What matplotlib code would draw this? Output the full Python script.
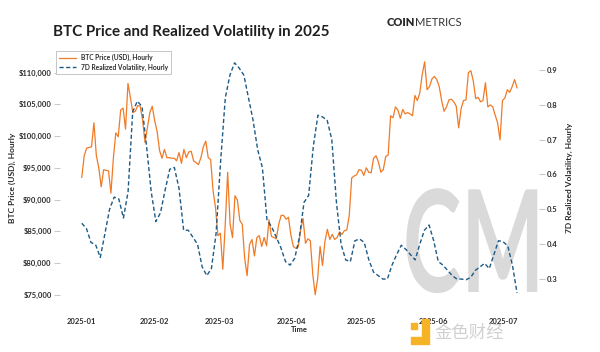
import numpy as np
import pandas as pd
import matplotlib
matplotlib.use("Agg")
import matplotlib.pyplot as plt
import matplotlib.dates as mdates
from matplotlib.ticker import FuncFormatter, FixedLocator
from matplotlib.textpath import TextPath
from matplotlib.patches import PathPatch, Rectangle
from matplotlib.font_manager import FontProperties
from matplotlib.transforms import Affine2D

plt.rcParams["font.family"] = ["Lato", "DejaVu Sans"]

# BTC price, hourly chart read roughly once per day (thousand USD)
price_k = [
    # Jan
    93.5, 96.9, 98.1, 98.2, 98.3, 102.1, 96.9, 95.0, 92.0, 94.7, 94.6, 94.5, 91.0, 96.5, 100.5, 99.9,
    104.1, 104.4, 101.1, 108.3, 106.1, 103.7, 103.9, 104.8, 104.7, 102.6, 99.0, 101.3, 103.7, 104.7, 102.4,
    # Feb
    100.7, 97.7, 96.5, 97.9, 96.6, 96.6, 96.5, 96.5, 96.1, 97.4, 95.7, 97.9, 96.6, 97.5, 97.6, 96.1,
    95.8, 95.5, 96.6, 98.3, 99.2, 96.6, 96.3, 91.4, 88.7, 84.3, 84.7, 79.0,
    # Mar
    86.0, 94.3, 86.1, 84.0, 90.6, 89.9, 86.7, 86.1, 80.7, 78.0, 82.9, 83.7, 81.1, 84.0, 84.3, 82.6,
    84.0, 82.7, 86.8, 84.2, 84.0, 83.8, 86.1, 87.5, 87.5, 86.9, 87.2, 84.4, 82.6, 82.3, 82.5,
    # Apr
    85.2, 87.0, 83.1, 83.8, 83.5, 78.2, 75.0, 77.5, 82.6, 79.6, 83.4, 85.3, 83.7, 84.5, 83.7, 84.0,
    84.9, 84.5, 85.1, 85.2, 87.5, 93.4, 93.7, 93.9, 94.7, 94.6, 93.8, 95.0, 94.3, 94.2,
    # May
    96.5, 96.9, 95.9, 94.3, 94.7, 96.8, 97.0, 103.2, 102.9, 104.6, 104.1, 102.8, 104.2, 103.5, 103.7, 103.5,
    103.2, 106.4, 105.6, 106.8, 109.7, 111.7, 107.3, 107.8, 109.0, 109.4, 108.9, 107.8, 105.6, 103.9, 104.6,
    # Jun
    105.7, 105.8, 105.4, 104.7, 101.3, 104.3, 105.6, 105.7, 110.0, 110.3, 108.7, 105.9, 106.1, 105.4, 105.6,
    108.4, 104.6, 104.9, 104.6, 103.3, 102.1, 99.4, 105.6, 106.0, 107.3, 106.9, 107.8, 108.9, 107.6,
]

# 7D realized volatility, read about every two days
vol = [
    0.46, 0.445, 0.405, 0.398, 0.362, 0.43, 0.50, 0.535, 0.53, 0.475,
    0.55, 0.78, 0.81, 0.795, 0.68, 0.55, 0.465, 0.49, 0.555, 0.615,
    0.62, 0.56, 0.44, 0.44, 0.42, 0.40, 0.335, 0.31, 0.33, 0.43,
    0.64, 0.82, 0.885, 0.92, 0.905, 0.885, 0.82, 0.755, 0.67, 0.62,
    0.47, 0.45, 0.42, 0.39, 0.35, 0.34, 0.36, 0.42, 0.52, 0.54,
    0.68, 0.77, 0.765, 0.755, 0.70, 0.52, 0.40, 0.355, 0.35, 0.41,
    0.415, 0.405, 0.355, 0.32, 0.31, 0.30, 0.30, 0.34, 0.37, 0.397,
    0.385, 0.37, 0.355, 0.40, 0.44, 0.455, 0.41, 0.35, 0.34, 0.325,
    0.31, 0.30, 0.30, 0.298, 0.305, 0.325, 0.335, 0.345, 0.33, 0.37,
    0.41, 0.407, 0.395, 0.34, 0.26,
]

start, end = "2025-01-01", "2025-07-07"
price_dates = pd.date_range(start, end, periods=len(price_k))
vol_dates = pd.date_range(start, end, periods=len(vol))
price = np.array(price_k) * 1000

orange = "#f07a26"
blue = "#1d5a84"
tick_grey = "#c9c9c9"
text_col = "#2b2b2b"

fig = plt.figure(figsize=(6, 3.52), dpi=100)
ax = fig.add_axes([0.1, 0.125, 0.798, 0.739])
ax2 = ax.twinx()

# grey "CM" watermark behind the lines (pixel coords, squeezed like the logo)
cm_path = TextPath((0, 0), "CM", size=1, prop=FontProperties(family="Lato", weight="bold"))
cm_patch = PathPatch(cm_path, transform=Affine2D().scale(88, 142).translate(403, 60),
                     facecolor="#dadada", edgecolor="none", zorder=0)
cm_patch.set_figure(fig)
ax.add_artist(cm_patch)

l1, = ax.plot(price_dates, price, color=orange, lw=0.9, label="BTC Price (USD), Hourly", zorder=2)
l2, = ax2.plot(vol_dates, vol, color=blue, lw=1.0, ls=(0, (3, 1.8)),
               label="7D Realized Volatility, Hourly")

ax.set_ylim(72900, 113900)
ax2.set_ylim(0.217, 0.963)

ax.yaxis.set_major_locator(FixedLocator(np.arange(75000, 110001, 5000)))
ax.yaxis.set_major_formatter(FuncFormatter(lambda v, p: f"${v:,.0f}"))
ax2.yaxis.set_major_locator(FixedLocator([0.3, 0.4, 0.5, 0.6, 0.7, 0.8, 0.9]))
ax2.yaxis.set_major_formatter(FuncFormatter(lambda v, p: f"{v:.1f}"))

ax.xaxis.set_major_locator(mdates.MonthLocator())
ax.xaxis.set_major_formatter(mdates.DateFormatter("%Y-%m"))

for a in (ax, ax2):
    for s in a.spines.values():
        s.set_visible(False)
    a.tick_params(axis="y", length=4.5, width=0.8, color=tick_grey, pad=1.5,
                  labelsize=5.5, labelcolor=text_col)
    for lab in a.get_yticklabels():
        lab.set_fontweight("bold")
ax.tick_params(axis="x", length=0, pad=7, labelsize=5.5, labelcolor=text_col)
for lab in ax.get_xticklabels():
    lab.set_fontweight("bold")

ax.set_xlabel("Time", fontsize=5.5, color=text_col, fontweight="bold", labelpad=1)
ax.set_ylabel("BTC Price (USD), Hourly", fontsize=6, color=text_col, fontweight="bold", labelpad=2)
ax2.set_ylabel("7D Realized Volatility, Hourly", fontsize=6, color=text_col, fontweight="bold",
               labelpad=6)

leg = fig.legend(handles=[l1, l2], loc="upper left", bbox_to_anchor=(56 / 600, 1 - 51 / 352),
                 borderaxespad=0, fontsize=4.8, fancybox=False, framealpha=1,
                 edgecolor="#bdbdbd", handlelength=2.6, handletextpad=0.7,
                 borderpad=0.45, labelspacing=0.35)
leg.get_frame().set_linewidth(0.6)
for t in leg.get_texts():
    t.set_fontweight("bold")
    t.set_color(text_col)

fig.text(53 / 600, 1 - 32 / 352, "BTC Price and Realized Volatility in 2025", fontsize=10.9,
         fontweight="bold", color="#1f1f1f", ha="left", va="center")
fig.text(387 / 600, 1 - 23 / 352, "COIN", fontsize=8, fontweight="heavy", color="#2b2b2b",
         ha="left", va="center")
fig.text(415.5 / 600, 1 - 23 / 352, "METRICS", fontsize=8, fontweight="normal", color="#333333",
         ha="left", va="center")

# site watermark at the bottom right
fig.text(434 / 600, 1 - 333 / 352, "金色财经", fontsize=12.5, color="#d0d0d0",
         family=["Noto Sans CJK SC", "DejaVu Sans"], ha="left", va="center")
fig.patches.append(Rectangle((411 / 600, 1 - 344 / 352), 18 / 600, 7 / 352,
                             transform=fig.transFigure, color="#f5b325", zorder=5))
fig.patches.append(Rectangle((422 / 600, 1 - 337 / 352), 7 / 600, 18 / 352,
                             transform=fig.transFigure, color="#f5b325", zorder=5))
fig.patches.append(Rectangle((411 / 600, 1 - 329 / 352), 6 / 600, 6 / 352,
                             transform=fig.transFigure, color="#f5b325", zorder=5))

fig.savefig("out.png", dpi=100)
